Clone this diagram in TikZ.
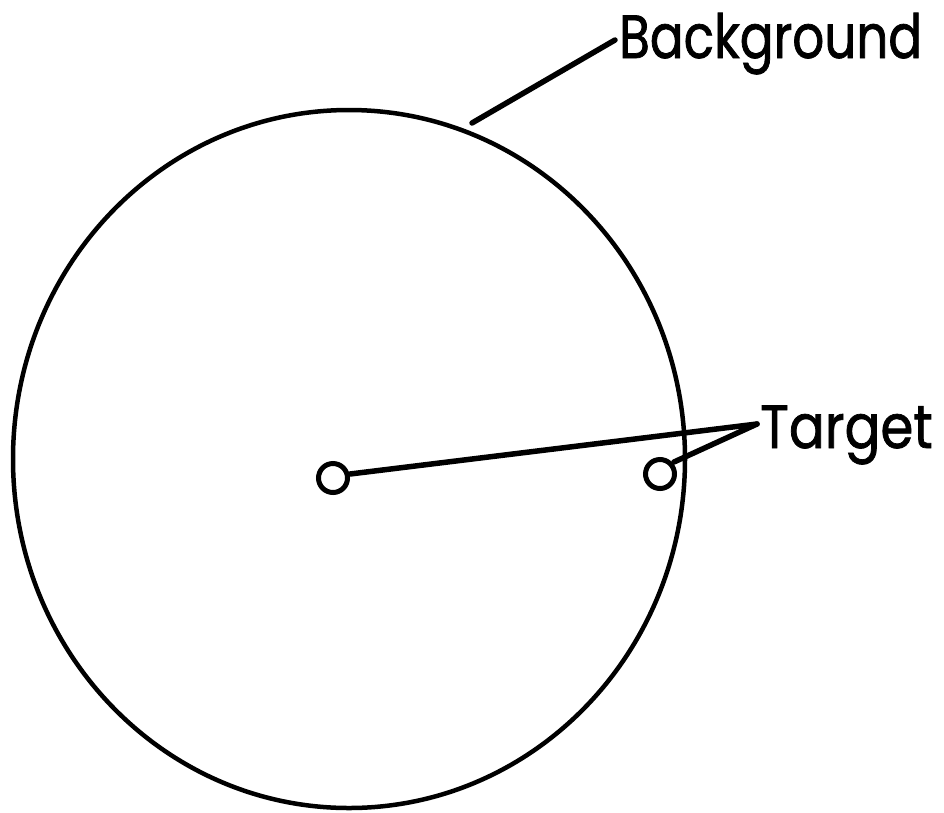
\documentclass[tikz,border=0pt]{standalone}
\usepackage{fontspec}
\newfontfamily\labfont{Poppins}[FakeStretch=0.87,FakeBold=1.2]
\newfontfamily\labfontn{Poppins}[FakeStretch=0.82,FakeBold=1.2]
\begin{document}
\begin{tikzpicture}[x=1pt,y=-1pt,
  outline/.style={line width=4.5pt},
  leader/.style={line width=5.5pt,line cap=round},
  spot/.style={circle,draw,line width=5pt,minimum size=29pt,inner sep=0pt},
  lab/.style={inner sep=0pt,anchor=base west}]
\useasboundingbox (0,0) rectangle (944,812);
% background disc
\draw[outline] (349,459) ellipse [x radius=336, y radius=349];
% target spots
\node[spot] (t1) at (333,478) {};
\node[spot] (t2) at (660,474) {};
% labels
\node[lab,font=\labfontn\fontsize{61}{61}\selectfont] (bglab) at (619,58) {Background};
\node[lab,font=\labfont\fontsize{61}{61}\selectfont] (tglab) at (760,448) {Target};
\coordinate (bgend) at (615,40);
\coordinate (bgstart) at (472,123);
\coordinate (tgapex) at (757,424);
% leaders
\draw[leader] (bgstart) -- (bgend);
\draw[leader] (t1.east) ++(0,-4) -- (tgapex);
\draw[leader] (t2.north east) ++(2,0) -- (tgapex);
\end{tikzpicture}
\end{document}
